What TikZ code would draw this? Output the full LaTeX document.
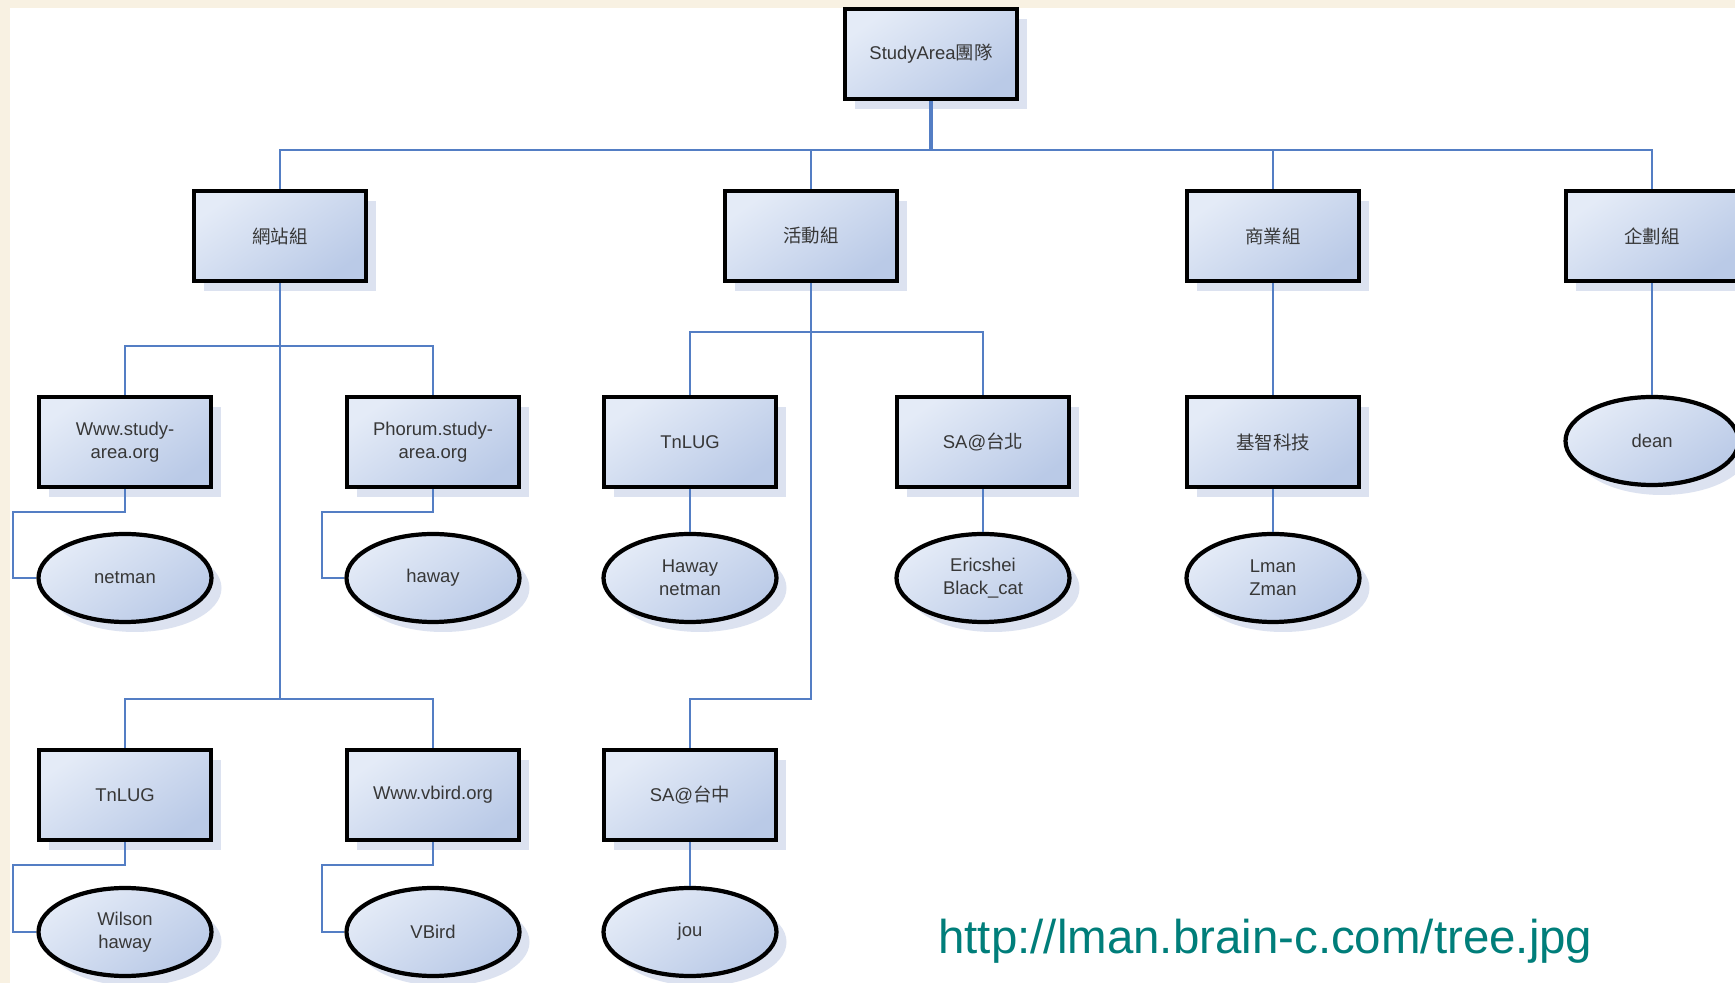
\documentclass[tikz,border=0pt]{standalone}
\usepackage{fontspec}
\setmainfont{Liberation Sans}
\newfontfamily\cjk{Noto Sans CJK TC}
\usetikzlibrary{positioning,shapes,shadows,calc}
\definecolor{boxlight}{RGB}{228,235,247}
\definecolor{boxdark}{RGB}{186,202,231}
\definecolor{linkblue}{RGB}{84,126,196}
\definecolor{shadowblue}{RGB}{220,226,240}
\definecolor{pagebeige}{RGB}{248,241,226}
\definecolor{urlteal}{RGB}{0,126,122}
\definecolor{labelgray}{RGB}{55,55,55}
\tikzset{
teamnode/.style={rectangle, draw=black, line width=2.4pt, minimum width=3.44cm, minimum height=1.8cm,
                 inner sep=2pt, top color=boxlight, bottom color=boxdark, shading angle=35,
                 drop shadow={shadow xshift=0.2cm, shadow yshift=-0.2cm, fill=shadowblue, opacity=1},
                 text=labelgray, font=\fontsize{10.5}{13}\selectfont, align=center},
membernode/.style={ellipse, draw=black, line width=2.4pt, minimum width=3.46cm, minimum height=1.76cm,
                 inner sep=1pt, top color=boxlight, bottom color=boxdark, shading angle=35,
                 drop shadow={shadow xshift=0.2cm, shadow yshift=-0.2cm, fill=shadowblue, opacity=1},
                 text=labelgray, font=\fontsize{10.5}{13}\selectfont, align=center},
link/.style={draw=linkblue, line width=1.3pt},
urltext/.style={text=urlteal, font=\fontsize{27}{30}\selectfont, inner sep=0pt}
}

\begin{document}
\begin{tikzpicture}

%Page
\useasboundingbox (0,0) rectangle (34.7,19.66);
\fill[white] (0,0) rectangle (34.7,19.66);
\fill[pagebeige] (0,19.5) rectangle (34.7,19.66);
\fill[pagebeige] (0,0) rectangle (0.2,19.66);

%Team
\node[teamnode] (root) at (18.62,18.58) {StudyArea{\cjk 團隊}};

%Groups
\node[teamnode] (web) at (5.6,14.94) {\cjk 網站組};
\node[teamnode] (act) at (16.22,14.94) {\cjk 活動組};
\node[teamnode] (biz) at (25.46,14.94) {\cjk 商業組};
\node[teamnode] (plan) at (33.04,14.94) {\cjk 企劃組};

%Sites
\node[teamnode] (wwwsa) at (2.5,10.82) {Www.study-\\area.org};
\node[teamnode] (phorum) at (8.66,10.82) {Phorum.study-\\area.org};
\node[teamnode] (tnlugA) at (13.8,10.82) {TnLUG};
\node[teamnode] (satp) at (19.66,10.82) {SA@{\cjk 台北}};
\node[teamnode] (brain) at (25.46,10.82) {\cjk 基智科技};
\node[membernode] (dean) at (33.04,10.84) {dean};

%Members
\node[membernode] (netman) at (2.5,8.1) {netman};
\node[membernode] (haway) at (8.66,8.1) {haway};
\node[membernode] (hawaynet) at (13.8,8.1) {Haway\\netman};
\node[membernode] (ericshei) at (19.66,8.1) {Ericshei\\Black\_cat};
\node[membernode] (lman) at (25.46,8.1) {Lman\\Zman};

%Lower sites and members
\node[teamnode] (tnlugB) at (2.5,3.76) {TnLUG};
\node[teamnode] (vbirdorg) at (8.66,3.76) {Www.vbird.org};
\node[teamnode] (satc) at (13.8,3.76) {SA@{\cjk 台中}};
\node[membernode] (wilson) at (2.5,1.02) {Wilson\\haway};
\node[membernode] (vbird) at (8.66,1.02) {VBird};
\node[membernode] (jou) at (13.8,1.02) {jou};

\node[urltext, anchor=base west] (url) at (18.76,0.58) {http://lman.brain-c.com/tree.jpg};

%Bus levels and bends
\coordinate (topbus) at (0,16.66);
\coordinate (webbus) at (0,12.74);
\coordinate (actbus) at (0,13.02);
\coordinate (lowbus) at (0,5.68);
\coordinate (netbend) at (0.26,9.42);
\coordinate (hawbend) at (6.44,9.42);
\coordinate (wilbend) at (0.26,2.36);
\coordinate (vbbend) at (6.44,2.36);

%Links
\draw[link, line width=2pt] (root.south) -- (root.south |- topbus);
\draw[link] (root.south |- topbus) -| (web.north);
\draw[link] (root.south |- topbus) -| (act.north);
\draw[link] (root.south |- topbus) -| (biz.north);
\draw[link] (root.south |- topbus) -| (plan.north);

\draw[link] (web.south) -- (web.south |- webbus) -| (wwwsa.north);
\draw[link] (web.south |- webbus) -| (phorum.north);
\draw[link] (web.south) -- (web.south |- lowbus) -| (tnlugB.north);
\draw[link] (web.south |- lowbus) -| (vbirdorg.north);

\draw[link] (act.south) -- (act.south |- actbus) -| (tnlugA.north);
\draw[link] (act.south |- actbus) -| (satp.north);
\draw[link] (act.south) -- (act.south |- lowbus) -| (satc.north);

\draw[link] (biz) -- (brain);
\draw[link] (plan) -- (dean);

\draw[link] (wwwsa.south) |- (netbend) |- (netman.west);
\draw[link] (phorum.south) |- (hawbend) |- (haway.west);
\draw[link] (tnlugA) -- (hawaynet);
\draw[link] (satp) -- (ericshei);
\draw[link] (brain) -- (lman);

\draw[link] (tnlugB.south) |- (wilbend) |- (wilson.west);
\draw[link] (vbirdorg.south) |- (vbbend) |- (vbird.west);
\draw[link] (satc) -- (jou);
\end{tikzpicture}
\end{document}
